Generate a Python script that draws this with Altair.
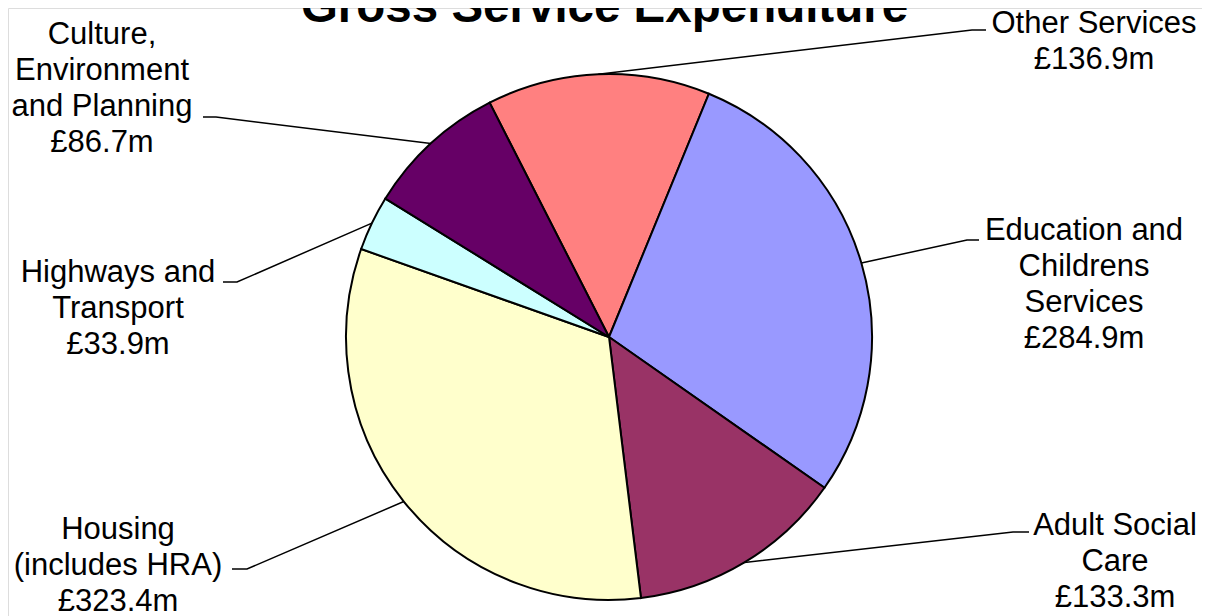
import math
import altair as alt
import pandas as pd

# ---------------- data ----------------
title_text = "Gross Service Expenditure"
categories = [
    "Other Services",
    "Education and Childrens Services",
    "Adult Social Care",
    "Housing (includes HRA)",
    "Highways and Transport",
    "Culture, Environment and Planning",
]
values = [136.9, 284.9, 133.3, 323.4, 33.9, 86.7]
label_lines = [
    ["Other Services"],
    ["Education and", "Childrens", "Services"],
    ["Adult Social", "Care"],
    ["Housing", "(includes HRA)"],
    ["Highways and", "Transport"],
    ["Culture,", "Environment", "and Planning"],
]
colors = ["#FF8080", "#9999FF", "#993366", "#FFFFCC", "#CCFFFF", "#660066"]

# ---------------- layout (page pixels) ----------------
W, H = 1194, 608
OFF = 8
CX, CY, R = 609, 337, 263
START_DEG = -27.0
label_pos = [(1094, 33), (1084, 240), (1115, 535), (118, 539), (118, 282), (102, 44)]
elbow_pos = [(972, 30), (967, 240), (1013, 532), (247, 569), (237, 282), (216, 117)]
tail_pos = [(986, 30), (979, 240), (1029, 532), (232, 569), (223, 282), (203, 117)]
title_pos = (604.5, 22)

total = sum(values)
a0 = math.radians(START_DEG)

pie_df = pd.DataFrame({"category": categories, "value": values, "idx": list(range(len(values)))})

# leader lines: anchor at slice mid-angle on the rim
rows = []
cum = 0.0
for i, (cat, v) in enumerate(zip(categories, values)):
    mid = a0 + 2 * math.pi * (cum + v / 2) / total
    cum += v
    ax = CX + R * math.sin(mid)
    ay = CY - R * math.cos(mid)
    pts = [(ax, ay), elbow_pos[i], tail_pos[i]]
    for k, (px, py) in enumerate(pts):
        rows.append({"category": cat, "k": k, "px": px, "py": py})
line_df = pd.DataFrame(rows)

text_rows = []
for i, (lines, v) in enumerate(zip(label_lines, values)):
    text_rows.append({
        "txt": "\n".join(lines + [f"£{v:.1f}m"]),
        "px": label_pos[i][0],
        "py": label_pos[i][1],
    })
text_df = pd.DataFrame(text_rows)
title_df = pd.DataFrame([{"txt": title_text, "px": title_pos[0], "py": title_pos[1]}])

xs = alt.Scale(domain=[OFF, OFF + W], range=[0, W], nice=False, zero=False)
ys = alt.Scale(domain=[OFF, OFF + H], reverse=True, nice=False, zero=False)

pie = alt.Chart(pie_df).mark_arc(
    outerRadius=R, stroke="black", strokeWidth=2
).encode(
    theta=alt.Theta("value:Q", stack=True,
                    scale=alt.Scale(domain=[0, total], range=[a0, a0 + 2 * math.pi], nice=False, zero=True)),
    color=alt.Color("category:N", scale=alt.Scale(domain=categories, range=colors), legend=None),
    order=alt.Order("idx:Q"),
    x=alt.value(CX - OFF),
    y=alt.value(CY - OFF),
)

leaders = alt.Chart(line_df).mark_line(color="black", strokeWidth=1.5).encode(
    x=alt.X("px:Q", scale=xs, axis=None),
    y=alt.Y("py:Q", scale=ys, axis=None),
    detail="category:N",
    order="k:Q",
)

labels = alt.Chart(text_df).mark_text(
    font="Liberation Sans", fontSize=31, lineHeight=36, align="center",
    baseline="alphabetic", lineBreak="\n", color="black"
).encode(
    x=alt.X("px:Q", scale=xs, axis=None),
    y=alt.Y("py:Q", scale=ys, axis=None),
    text="txt:N",
)

title = alt.Chart(title_df).mark_text(
    font="Liberation Sans", fontSize=47.5, fontWeight="bold", align="center",
    baseline="alphabetic", color="black"
).encode(
    x=alt.X("px:Q", scale=xs, axis=None),
    y=alt.Y("py:Q", scale=ys, axis=None),
    text="txt:N",
)

chart = alt.layer(pie, leaders, labels, title).properties(
    width=W, height=H, padding=0, autosize=alt.AutoSizeParams(type="none")
).configure_view(stroke=None).configure(background="white")

chart.save("out.html", embed_options={"renderer": "svg", "actions": False})
